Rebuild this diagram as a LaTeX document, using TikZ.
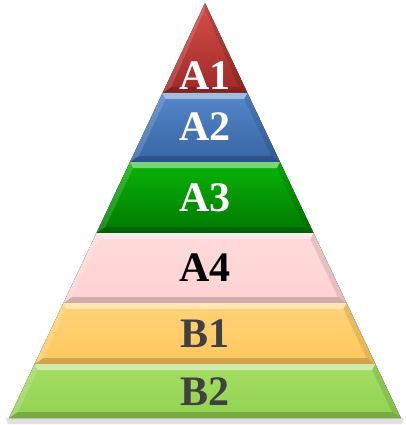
\documentclass[tikz,border=0pt]{standalone}
\usepackage{fontspec}
\setmainfont{Liberation Serif}
\definecolor{redtop}{RGB}{210,80,75}
\definecolor{redbot}{RGB}{160,40,38}
\definecolor{bluetop}{RGB}{85,135,200}
\definecolor{bluebot}{RGB}{55,100,165}
\definecolor{greentop}{RGB}{10,180,10}
\definecolor{greenbot}{RGB}{0,120,0}
\definecolor{pinktop}{RGB}{255,218,218}
\definecolor{pinkbot}{RGB}{255,210,210}
\definecolor{orangetop}{RGB}{255,210,120}
\definecolor{orangebot}{RGB}{255,200,95}
\definecolor{limetop}{RGB}{165,222,100}
\definecolor{limebot}{RGB}{145,210,80}
\definecolor{darktext}{RGB}{64,64,64}
% one layer of the pyramid: top y, bottom y, top colour, bottom colour
\newcommand\pyrlayer[4]{%
  \pgfmathsetmacro\hwtop{0.472*(#1-3)}
  \pgfmathsetmacro\hwbot{0.472*(#2-3)}
  \pgfmathsetmacro\hwti{max(0.472*(#1+6-3)-6,0)}
  \pgfmathsetmacro\hwbi{0.472*(#2-6-3)-6}
  \fill[top color=#3,bottom color=#4] (205-\hwtop,#1) -- (205+\hwtop,#1) -- (205+\hwbot,#2) -- (205-\hwbot,#2) -- cycle;
  % bevel
  \fill[white,opacity=.45] (205-\hwtop,#1) -- (205+\hwtop,#1) -- (205+\hwti,#1+6) -- (205-\hwti,#1+6) -- cycle;
  \fill[black,opacity=.18] (205-\hwbot,#2) -- (205+\hwbot,#2) -- (205+\hwbi,#2-6) -- (205-\hwbi,#2-6) -- cycle;
  \fill[white,opacity=.15] (205-\hwtop,#1) -- (205-\hwti,#1+6) -- (205-\hwbi,#2-6) -- (205-\hwbot,#2) -- cycle;
  \fill[black,opacity=.1] (205+\hwtop,#1) -- (205+\hwti,#1+6) -- (205+\hwbi,#2-6) -- (205+\hwbot,#2) -- cycle;
}
\begin{document}
\begin{tikzpicture}[x=1pt,y=-1pt,
    lbl/.style={font=\fontsize{42}{42}\selectfont\bfseries,inner sep=0pt}]
  \useasboundingbox (0,0) rectangle (405,425);

  % shadow
  \fill[black,opacity=.12] (6,418) -- (404,418) -- (402,424) -- (8,424) -- cycle;

  % layers
  \pyrlayer{3}{93}{redtop}{redbot}
  \pyrlayer{93}{162}{bluetop}{bluebot}
  \pyrlayer{162}{233}{greentop}{greenbot}
  \pyrlayer{233}{303}{pinktop}{pinkbot}
  \pyrlayer{303}{364}{orangetop}{orangebot}
  \pyrlayer{364}{418}{limetop}{limebot}

  % labels
  \node[lbl,text=white] (A1) at (205,76) {A1};
  \node[lbl,text=white] (A2) at (205,127) {A2};
  \node[lbl,text=white] (A3) at (205,198) {A3};
  \node[lbl,text=black] (A4) at (205,268) {A4};
  \node[lbl,text=darktext] (B1) at (205,334) {B1};
  \node[lbl,text=darktext] (B2) at (205,392) {B2};
\end{tikzpicture}
\end{document}
